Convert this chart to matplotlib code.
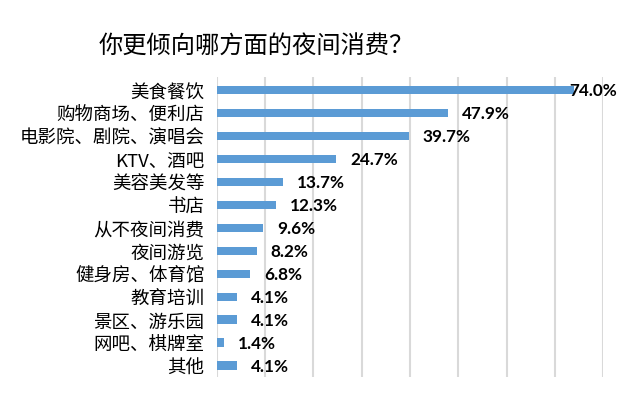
import matplotlib.pyplot as plt

plt.rcParams['font.family'] = ['Noto Sans CJK SC', 'DejaVu Sans']

# data
categories = ['美食餐饮', '购物商场、便利店', '电影院、剧院、演唱会', 'KTV、酒吧',
              '美容美发等', '书店', '从不夜间消费', '夜间游览', '健身房、体育馆',
              '教育培训', '景区、游乐园', '网吧、棋牌室', '其他']
values = [74.0, 47.9, 39.7, 24.7, 13.7, 12.3, 9.6, 8.2, 6.8, 4.1, 4.1, 1.4, 4.1]
ticks = [0, 10, 20, 30, 40, 50, 60, 70, 80]

fig = plt.figure(figsize=(6.26, 4.02), dpi=100)
ax = fig.add_axes([0.3466, 0.0597, 0.9633 - 0.3466, 0.806 - 0.0597])

pos = list(range(len(categories)))
ax.barh(pos, values, height=0.36, color='#5B9BD5', zorder=3)

ax.set_xlim(0, 80)
ax.set_ylim(12.5, -0.57)
ax.set_xticks(ticks)
ax.set_xticklabels([])
ax.tick_params(axis='x', length=0)
ax.grid(axis='x', color='#D9D9D9', linewidth=1.5, zorder=0)
for s in ax.spines.values():
    s.set_visible(False)

ax.set_yticks(pos)
ax.set_yticklabels(categories, fontsize=13.3, color='black')
ax.tick_params(axis='y', length=0, pad=9)

# value labels, clamped inside the plot like excel does
for p, v in zip(pos, values):
    x = min(v + 2.9, 72.9)
    ax.text(x, p, f'{v:.1f}%', va='center', ha='left', fontsize=12.3,
            fontweight='bold', family=['Lato', 'DejaVu Sans'], color='black',
            zorder=4)

fig.text(0.41, 0.883, '你更倾向哪方面的夜间消费？', ha='center', va='center',
         fontsize=17.5, color='black')

fig.savefig('out.png', dpi=100)
